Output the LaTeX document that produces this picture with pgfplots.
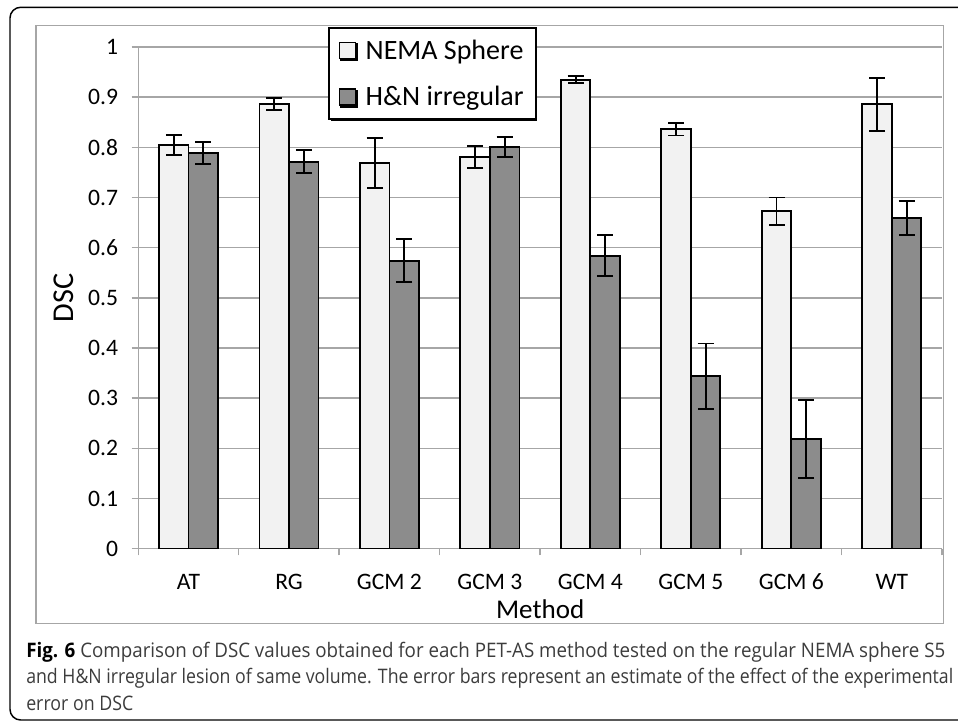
\documentclass[border=0pt]{standalone}
\usepackage{fontspec}
\setmainfont{Carlito}
\newfontfamily\capfont{Open Sans}
\usepackage{graphicx}
\usepackage{pgfplots}
\usepackage{pgfplotstable}
\pgfplotsset{compat=1.18}
\usetikzlibrary{shadows}
\definecolor{lightbar}{RGB}{242,242,242}
\definecolor{darkbar}{RGB}{140,140,140}
\definecolor{gridc}{RGB}{166,166,166}
\definecolor{captxt}{RGB}{60,60,60}

\pgfplotstableread{
x y e
0 0.805 0.020
1 0.886 0.012
2 0.769 0.050
3 0.781 0.022
4 0.935 0.007
5 0.836 0.0125
6 0.673 0.027
7 0.886 0.053
}\nema
\pgfplotstableread{
x y e
0 0.788 0.022
1 0.771 0.023
2 0.574 0.043
3 0.801 0.020
4 0.584 0.041
5 0.344 0.065
6 0.219 0.078
7 0.659 0.034
}\hn

\begin{document}
\begin{tikzpicture}[x=0.75pt,y=-0.75pt]
\useasboundingbox (0,0) rectangle (958,723);
\fill[white] (0,0) rectangle (958,723);
\begin{scope}
\clip (0,0) rectangle (958,723);
\draw[line width=1.1pt, rounded corners=8pt] (10,7.3) rectangle (1000,720);
\end{scope}
\draw[gridc, line width=1.1pt] (36,25.7) rectangle (943.3,623.3);
\begin{axis}[
  at={(103.725pt,-411.525pt)}, anchor=south west,
  scale only axis, width=602.8pt, height=376.3pt,
  xmin=-0.5, xmax=7.5, ymin=0, ymax=1,
  ybar=0pt, bar width=0.294,
  axis x line*=bottom, axis y line*=left,
  axis line style={gridc, line width=1.1pt, -},
  ytick={0,0.1,0.2,0.3,0.4,0.5,0.6,0.7,0.8,0.9,1},
  yticklabels={0,0.1,0.2,0.3,0.4,0.5,0.6,0.7,0.8,0.9,1},
  xtick={-0.5,0.5,1.5,2.5,3.5,4.5,5.5,6.5,7.5},
  xticklabels={AT,RG,GCM 2,GCM 3,GCM 4,GCM 5,GCM 6,WT},
  x tick label as interval,
  tick align=outside, major tick length=5pt,
  tick style={gridc, line width=1.1pt},
  ymajorgrids, grid style={gridc, line width=1.1pt},
  tick label style={font=\fontsize{17.7}{20}\selectfont, text=black},
  yticklabel style={xshift=-6.6pt},
  xticklabel style={anchor=north, text height=12pt, text depth=3pt, yshift=-10pt},
  xlabel={Method}, ylabel={DSC},
  xlabel style={font=\fontsize{20.3}{24}\selectfont, at={(axis description cs:0.5,-0.1205)}, anchor=center},
  ylabel style={font=\fontsize{22.7}{26}\selectfont, at={(axis description cs:-0.0933,0.5)}, anchor=center},
  legend style={at={(0.2364,1.0393)}, anchor=north west, draw=black, line width=1.6pt, fill=white,
    font=\fontsize{21}{25}\selectfont, inner xsep=7pt, inner ysep=6.5pt, row sep=15pt,
    drop shadow={shadow xshift=1.3pt, shadow yshift=-1.3pt, fill=black, opacity=1}},
  legend cell align=left,
  legend image code/.code={\draw[#1, line width=1.1pt] (0pt,-6pt) rectangle (12pt,6pt); \path (17pt,0pt);},
]
\addplot[fill=lightbar, draw=black, line width=1.4pt,
  error bars/.cd, y dir=both, y explicit, error mark=|,
  error bar style={line width=1.4pt, black}, error mark options={mark size=6pt, line width=1.4pt, black}]
  table[x=x, y=y, y error=e] {\nema};
\addplot[fill=darkbar, draw=black, line width=1.4pt,
  error bars/.cd, y dir=both, y explicit, error mark=|,
  error bar style={line width=1.4pt, black}, error mark options={mark size=6pt, line width=1.4pt, black}]
  table[x=x, y=y, y error=e] {\hn};
\legend{NEMA Sphere, H\&N irregular}
\end{axis}
\node[anchor=base west, inner sep=0, font=\capfont\fontsize{15}{18}\selectfont, text=captxt] at (26,657.3)
  {\resizebox{689.25pt}{\height}{{\bfseries\color{black}Fig. 6} Comparison of DSC values obtained for each PET-AS method tested on the regular NEMA sphere S5}};
\node[anchor=base west, inner sep=0, font=\capfont\fontsize{15}{18}\selectfont, text=captxt] at (26,684)
  {\resizebox{695.25pt}{\height}{and H\&N irregular lesion of same volume. The error bars represent an estimate of the effect of the experimental}};
\node[anchor=base west, inner sep=0, font=\capfont\fontsize{15}{18}\selectfont, text=captxt] at (26,710.5)
  {\resizebox{80.25pt}{\height}{error on DSC}};
\end{tikzpicture}
\end{document}
